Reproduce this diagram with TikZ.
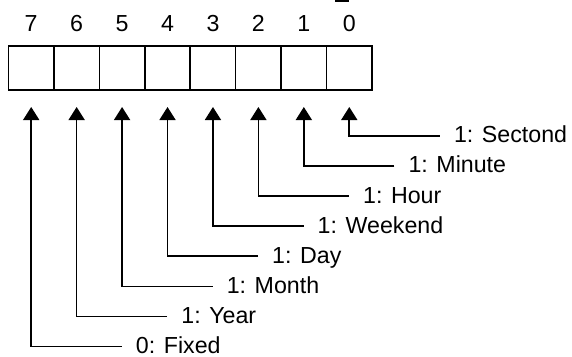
\documentclass[tikz,border=0pt]{standalone}
\usepackage{fontspec}
\setmainfont{Liberation Sans}
\usetikzlibrary{arrows.meta,positioning}

\tikzset{
  cell/.style={draw, line width=1.6pt, minimum width=45.44pt, minimum height=44pt,
    inner sep=0pt, outer sep=0pt},
  bitno/.style={inner sep=0pt, text height=16.6pt, text depth=0pt,
    font=\fontsize{23.2}{28}\selectfont},
  flag/.style={anchor=west, inner xsep=14pt, inner ysep=0pt, text height=14pt,
    text depth=0pt, font=\fontsize{23.2}{28}\selectfont},
  bitarrow/.style={-{Triangle[width=16pt,length=13pt]}, line width=1.6pt},
}

\begin{document}
\begin{tikzpicture}[x=1pt, y=-1pt]
        \useasboundingbox (0,0) rectangle (572,356);

        % --- Регистр: восемь ячеек ---
        \node[cell] (b7) at (31.2,68) {};
        \node[cell, right=0pt of b7] (b6) {};
        \node[cell, right=0pt of b6] (b5) {};
        \node[cell, right=0pt of b5] (b4) {};
        \node[cell, right=0pt of b4] (b3) {};
        \node[cell, right=0pt of b3] (b2) {};
        \node[cell, right=0pt of b2] (b1) {};
        \node[cell, right=0pt of b1] (b0) {};

        % --- Номера битов ---
        \node[bitno, above=14pt of b7] (n7) {7};
        \node[bitno, above=14pt of b6] (n6) {6};
        \node[bitno, above=14pt of b5] (n5) {5};
        \node[bitno, above=14pt of b4] (n4) {4};
        \node[bitno, above=14pt of b3] (n3) {3};
        \node[bitno, above=14pt of b2] (n2) {2};
        \node[bitno, above=14pt of b1] (n1) {1};
        \node[bitno, above=14pt of b0] (n0) {0};

        % --- Подписи флагов ---
        \node[flag] (f0) at (439.8,135.8) {1: Sectond};
        \node[flag] (f1) at (394.3,165.9) {1: Minute};
        \node[flag] (f2) at (348.9,196.0) {1: Hour};
        \node[flag] (f3) at (303.5,226.1) {1: Weekend};
        \node[flag] (f4) at (258.0,256.2) {1: Day};
        \node[flag] (f5) at (212.6,286.3) {1: Month};
        \node[flag] (f6) at (167.2,316.4) {1: Year};
        \node[flag] (f7) at (121.7,346.5) {0: Fixed};

        % --- Стрелки от подписей к ячейкам ---
        \draw[bitarrow] (f0.west) -| ([yshift=-17pt]b0.south);
        \draw[bitarrow] (f1.west) -| ([yshift=-17pt]b1.south);
        \draw[bitarrow] (f2.west) -| ([yshift=-17pt]b2.south);
        \draw[bitarrow] (f3.west) -| ([yshift=-17pt]b3.south);
        \draw[bitarrow] (f4.west) -| ([yshift=-17pt]b4.south);
        \draw[bitarrow] (f5.west) -| ([yshift=-17pt]b5.south);
        \draw[bitarrow] (f6.west) -| ([yshift=-17pt]b6.south);
        \draw[bitarrow] (f7.west) -| ([yshift=-17pt]b7.south);

        % --- Обрывок черты сверху ---
        \draw[line width=1.6pt] (335,0.8) -- (349,0.8);

\end{tikzpicture}
\end{document}
